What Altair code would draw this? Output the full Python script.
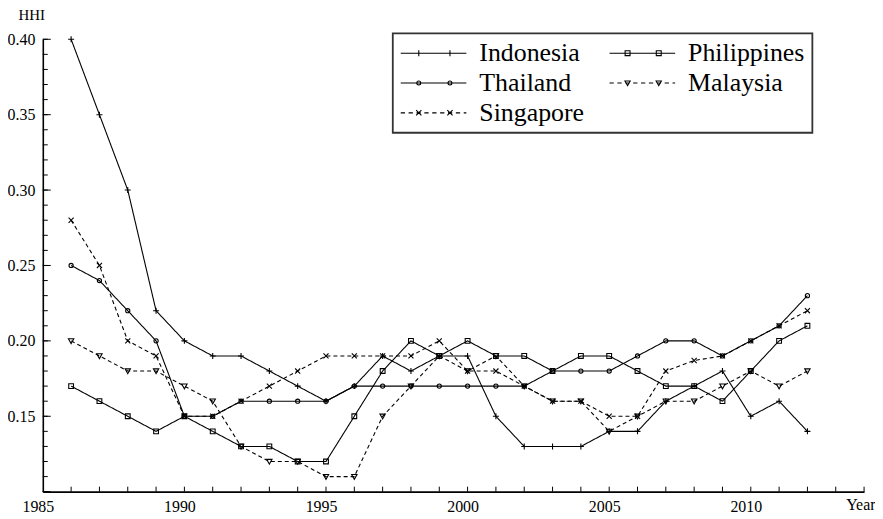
import altair as alt
import pandas as pd

# ---------------- data ----------------
years = list(range(1986, 2013))
countries = ["Indonesia", "Philippines", "Thailand", "Malaysia", "Singapore"]
legend_order = ["Indonesia", "Thailand", "Singapore", "Philippines", "Malaysia"]

indonesia = [0.40, 0.35, 0.30, 0.22, 0.20, 0.19, 0.19, 0.18, 0.17, 0.16, 0.17, 0.19, 0.18, 0.19,
             0.19, 0.15, 0.13, 0.13, 0.13, 0.14, 0.14, 0.16, 0.17, 0.18, 0.15, 0.16, 0.14]
philippines = [0.17, 0.16, 0.15, 0.14, 0.15, 0.14, 0.13, 0.13, 0.12, 0.12, 0.15, 0.18, 0.20, 0.19,
               0.20, 0.19, 0.19, 0.18, 0.19, 0.19, 0.18, 0.17, 0.17, 0.16, 0.18, 0.20, 0.21]
thailand = [0.25, 0.24, 0.22, 0.20, 0.15, 0.15, 0.16, 0.16, 0.16, 0.16, 0.17, 0.17, 0.17, 0.17,
            0.17, 0.17, 0.17, 0.18, 0.18, 0.18, 0.19, 0.20, 0.20, 0.19, 0.20, 0.21, 0.23]
malaysia = [0.20, 0.19, 0.18, 0.18, 0.17, 0.16, 0.13, 0.12, 0.12, 0.11, 0.11, 0.15, 0.17, 0.19,
            0.18, 0.19, 0.17, 0.16, 0.16, 0.14, 0.15, 0.16, 0.16, 0.17, 0.18, 0.17, 0.18]
singapore = [0.28, 0.25, 0.20, 0.19, 0.15, 0.15, 0.16, 0.17, 0.18, 0.19, 0.19, 0.19, 0.19, 0.20,
             0.18, 0.18, 0.17, 0.16, 0.16, 0.15, 0.15, 0.18, 0.187, 0.19, 0.20, 0.21, 0.22]

x_label_years = [1985, 1990, 1995, 2000, 2005, 2010]
y_label_values = [0.15, 0.20, 0.25, 0.30, 0.35, 0.40]
y_minor_ticks = [round(0.10 + 0.01 * i, 2) for i in range(31)]
y_major_ticks = [0.10, 0.15, 0.20, 0.25, 0.30, 0.35, 0.40]
x_minor_ticks = list(range(1986, 2015))

series = {"Indonesia": indonesia, "Philippines": philippines, "Thailand": thailand,
          "Malaysia": malaysia, "Singapore": singapore}
rows = [{"year": y, "hhi": v, "country": c}
        for c in countries for y, v in zip(years, series[c])]
df = pd.DataFrame(rows)

# ---------------- styling ----------------
FONT = "Liberation Serif, Times New Roman, Times, DejaVu Serif, serif"
W, H = 826, 455

x_scale = alt.Scale(domain=[1985, 2014], nice=False, zero=False)
y_scale = alt.Scale(domain=[0.10, 0.40], nice=False, zero=False)

x_axis = alt.Axis(values=x_label_years, format="d", labelFont=FONT, labelFontSize=16,
                  labelColor="black", labelPadding=20, labelBaseline="alphabetic",
                  labelOffset=-5, labelFlush=False, ticks=False, tickSize=0, grid=False,
                  domainColor="black", domainWidth=1.6,
                  title="Year", titleX=837, titleY=18, titleAlign="right",
                  titleBaseline="alphabetic", titleFont=FONT, titleFontSize=16,
                  titleFontWeight="normal", titleColor="black")
y_axis = alt.Axis(values=y_label_values, format=".2f", labelFont=FONT, labelFontSize=16,
                  labelColor="black", labelPadding=8, labelFlush=False, ticks=False,
                  tickSize=0, grid=False, domainColor="black", domainWidth=1.6,
                  title="HHI", titleAngle=0, titleAlign="left",
                  titleBaseline="alphabetic", titleX=-25, titleY=-20, titleFont=FONT,
                  titleFontSize=15, titleFontWeight="normal", titleColor="black")


def plus(cx, h):
    return f"M{cx - h},0L{cx + h},0M{cx},{-h}L{cx},{h}"


def square(cx, h):
    return f"M{cx - h},{-h}L{cx + h},{-h}L{cx + h},{h}L{cx - h},{h}Z"


def circle(cx, h):
    return f"M{cx - h},0A{h},{h},0,1,0,{cx + h},0A{h},{h},0,1,0,{cx - h},0Z"


def tri_down(cx, h):
    return f"M{cx - h},{-h * 0.8}L{cx + h},{-h * 0.8}L{cx},{h}Z"


def xmark(cx, h):
    return f"M{cx - h},{-h}L{cx + h},{h}M{cx - h},{h}L{cx + h},{-h}"


marker_fns = {"Indonesia": plus, "Philippines": square, "Thailand": circle,
              "Malaysia": tri_down, "Singapore": xmark}
marker_half = {"Indonesia": 1.0, "Philippines": 0.8, "Thailand": 0.7,
               "Malaysia": 0.9, "Singapore": 0.85}
legend_half = {"Indonesia": 0.09, "Philippines": 0.075, "Thailand": 0.06,
               "Malaysia": 0.08, "Singapore": 0.08}
dashed = {"Malaysia", "Singapore"}

marker_paths = [marker_fns[c](0, marker_half[c]) for c in countries]


def legend_path(c):
    if c in dashed:
        segs = []
        s = -1.0
        while s < 1.0:
            e = min(s + 0.13, 1.0)
            segs.append(f"M{s:.3f},0L{e:.3f},0")
            s += 0.24
        line = "".join(segs)
    else:
        line = "M-1,0L1,0"
    return line + marker_fns[c](-0.45, legend_half[c]) + marker_fns[c](0.5, legend_half[c])


legend_paths = [legend_path(c) for c in legend_order]
dash_range = [[1, 0] if c not in dashed else [4, 3] for c in countries]

base = alt.Chart(df)
X = alt.X("year:Q", scale=x_scale, axis=x_axis)
Y = alt.Y("hhi:Q", scale=y_scale, axis=y_axis)

lines = base.mark_line(color="black", strokeWidth=1.1).encode(
    x=X, y=Y,
    strokeDash=alt.StrokeDash("country:N", sort=countries,
                              scale=alt.Scale(domain=countries, range=dash_range),
                              legend=None),
)

points = base.mark_point(filled=False, color="black", strokeWidth=1.1, size=36, opacity=1).encode(
    x=X, y=Y,
    shape=alt.Shape("country:N", sort=countries,
                    scale=alt.Scale(domain=countries, range=marker_paths), legend=None),
)

legend_layer = base.mark_point(filled=False, color="black", opacity=0, size=1).encode(
    x=X, y=Y,
    shape=alt.Shape("country:N", sort=legend_order,
                    scale=alt.Scale(domain=legend_order, range=legend_paths),
                    legend=alt.Legend(title=None, orient="none", legendX=352, legendY=-6,
                                      values=legend_order, columns=2, columnPadding=24,
                                      rowPadding=4, padding=7, clipHeight=26,
                                      strokeColor="#333333", fillColor="white",
                                      labelFont=FONT, labelFontSize=26, labelColor="black",
                                      labelOffset=12, symbolSize=4356, symbolStrokeWidth=1.1,
                                      symbolOpacity=1, symbolStrokeColor="black")),
)

y_minor = alt.Chart(pd.DataFrame({"hhi": y_minor_ticks})).mark_rule(
    color="black", strokeWidth=1).encode(y=Y, x=alt.value(0), x2=alt.value(5))
y_major = alt.Chart(pd.DataFrame({"hhi": y_major_ticks})).mark_rule(
    color="black", strokeWidth=1).encode(y=Y, x=alt.value(0), x2=alt.value(8))
x_ticks = alt.Chart(pd.DataFrame({"year": x_minor_ticks})).mark_rule(
    color="black", strokeWidth=1).encode(x=X, y=alt.value(H), y2=alt.value(H - 5))

chart = alt.layer(lines, points, y_minor, y_major, x_ticks, legend_layer).resolve_scale(
    shape="independent", strokeDash="independent"
).resolve_legend(shape="independent").properties(
    width=W, height=H,
    padding={"left": 35, "top": 30, "right": 11, "bottom": 21},
    autosize=alt.AutoSizeParams(type="none"),
    background="white",
).configure_view(stroke=None).configure_legend(strokeWidth=1.8)

chart.save("out.html", embed_options={"renderer": "svg", "actions": False})
